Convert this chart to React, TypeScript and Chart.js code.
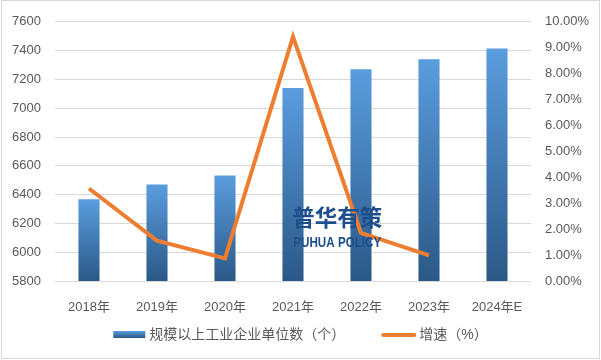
import React, { useEffect, useRef } from "react";
import { Chart, registerables } from "chart.js";

Chart.register(...registerables);

const categories = ["2018年", "2019年", "2020年", "2021年", "2022年", "2023年", "2024年E"];
const enterpriseCounts = [6368, 6471, 6532, 7141, 7271, 7340, 7415];
const growthRates = [3.57, 1.56, 0.87, 9.43, 1.86, 0.99, null];
const barLabel = "规模以上工业企业单位数（个）";
const lineLabel = "增速（%）";
const watermarkCn = "普华有策";
const watermarkEn = "PUHUA POLICY";

const FONT = "'Liberation Sans', 'Noto Sans CJK SC', sans-serif";
const TEXT = "#595959";
const BAR_TOP = "#5A9DDE";
const BAR_BOTTOM = "#2B5887";
const LINE = "#ED7D31";

const decorPlugin = {
  id: "decor",
  beforeDraw(chart: any) {
    const ctx = chart.ctx;
    ctx.save();
    ctx.fillStyle = "#ffffff";
    ctx.fillRect(0, 0, chart.width, chart.height);
    ctx.strokeStyle = "#D9D9D9";
    ctx.lineWidth = 1;
    ctx.strokeRect(1.5, 0.5, chart.width - 3, chart.height - 2);
    ctx.restore();
  },
  afterDraw(chart: any) {
    const ctx = chart.ctx;
    const area = chart.chartArea;
    ctx.save();
    // watermark
    ctx.fillStyle = "#1E4F8C";
    ctx.textAlign = "center";
    ctx.textBaseline = "middle";
    const wx = area.left + (area.right - area.left) * 0.593;
    ctx.font = `bold 23px 'Noto Sans CJK SC', sans-serif`;
    ctx.fillText(watermarkCn, wx, 217, 90);
    ctx.font = `bold 15px 'Liberation Sans', sans-serif`;
    ctx.fillText(watermarkEn, wx, 243, 88);

    // legend
    ctx.font = `14px ${FONT}`;
    ctx.textAlign = "left";
    ctx.fillStyle = TEXT;
    const w1 = ctx.measureText(barLabel).width;
    const w2 = ctx.measureText(lineLabel).width;
    const sw1 = 32, g1 = 4, gap = 36, sw2 = 35, g2 = 3;
    const total = sw1 + g1 + w1 + gap + sw2 + g2 + w2;
    let x = chart.width / 2 - total / 2;
    const ly = 334;
    const grad = ctx.createLinearGradient(0, ly - 3, 0, ly + 4);
    grad.addColorStop(0, BAR_TOP);
    grad.addColorStop(1, BAR_BOTTOM);
    ctx.fillStyle = grad;
    ctx.fillRect(x, ly - 3, sw1, 7);
    x += sw1 + g1;
    ctx.fillStyle = TEXT;
    ctx.fillText(barLabel, x, ly + 1);
    x += w1 + gap;
    ctx.strokeStyle = LINE;
    ctx.lineWidth = 4;
    ctx.lineCap = "round";
    ctx.beginPath();
    ctx.moveTo(x + 2, ly + 1);
    ctx.lineTo(x + sw2 - 2, ly + 1);
    ctx.stroke();
    x += sw2 + g2;
    ctx.fillText(lineLabel, x, ly + 1);
    ctx.restore();
  },
};

export default function App() {
  const ref = useRef<HTMLCanvasElement | null>(null);
  useEffect(() => {
    document.body.style.margin = "0";
    if (!ref.current) return;
    const chart = new Chart(ref.current, {
      type: "bar",
      data: {
        labels: categories,
        datasets: [
          {
            type: "line",
            label: lineLabel,
            data: growthRates,
            yAxisID: "y1",
            borderColor: LINE,
            borderWidth: 4,
            pointRadius: 0,
            tension: 0,
            order: 0,
            spanGaps: false,
          } as any,
          {
            type: "bar",
            label: barLabel,
            data: enterpriseCounts,
            yAxisID: "y",
            order: 1,
            categoryPercentage: 1,
            barPercentage: 0.31,
            backgroundColor: (c: any) => {
              const chart = c.chart;
              const area = chart.chartArea;
              if (!area || c.dataIndex === undefined) return BAR_TOP;
              const y = chart.scales.y.getPixelForValue(enterpriseCounts[c.dataIndex]);
              const g = chart.ctx.createLinearGradient(0, y, 0, area.bottom);
              g.addColorStop(0, BAR_TOP);
              g.addColorStop(1, BAR_BOTTOM);
              return g;
            },
          },
        ],
      },
      options: {
        animation: false,
        responsive: false,
        layout: { padding: { top: 16, left: 0, right: 0, bottom: 0 } },
        plugins: { legend: { display: false }, tooltip: { enabled: false } },
        scales: {
          x: {
            grid: { display: false },
            border: { display: false },
            ticks: { color: TEXT, font: { size: 13, family: FONT }, padding: 11, maxRotation: 0 },
            afterFit: (s: any) => { s.height = 79; },
          },
          y: {
            position: "left",
            min: 5800,
            max: 7600,
            ticks: {
              stepSize: 200,
              color: TEXT,
              font: { size: 13, family: FONT },
              padding: 14,
              callback: (v: any) => String(v),
            },
            grid: { color: "#D9D9D9", drawTicks: false, lineWidth: 1 },
            border: { display: false },
            afterFit: (s: any) => { s.width = 55; },
          },
          y1: {
            position: "right",
            min: 0,
            max: 10,
            ticks: {
              stepSize: 1,
              color: TEXT,
              font: { size: 13, family: FONT },
              padding: 14,
              callback: (v: any) => Number(v).toFixed(2) + "%",
            },
            grid: { display: false, drawTicks: false },
            border: { display: false },
            afterFit: (s: any) => { s.width = 70; },
          },
        },
      },
      plugins: [decorPlugin],
    });
    return () => chart.destroy();
  }, []);
  return (
    <div style={{ width: 601, height: 360 }}>
      <canvas ref={ref} width={601} height={360} style={{ display: "block" }} />
    </div>
  );
}
